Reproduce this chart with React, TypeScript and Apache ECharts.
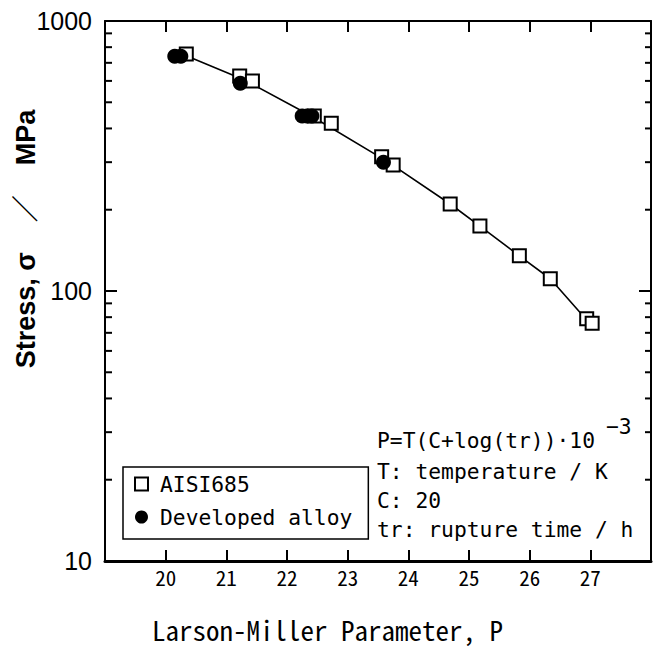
import React, { useEffect, useRef } from "react";
import * as echarts from "echarts";

// ---- data ----
const aisiP = [20.34, 21.22, 21.43, 22.45, 22.73, 23.56, 23.75, 24.69, 25.18, 25.83, 26.34, 26.94, 27.03];
const aisiS = [755, 626, 600, 445, 418, 314, 293, 210, 174, 135, 111, 79, 76];
const devP = [20.15, 20.25, 21.23, 22.25, 22.33, 22.41, 23.59];
const devS = [741, 741, 588, 445, 445, 445, 300];
const fitP = [20.3, 21.3, 22.4, 23.65, 24.69, 25.18, 25.83, 26.34, 26.9];
const fitS = [750, 605, 445, 302, 210, 174, 135, 111, 80];
const xTickLabels = ["20", "21", "22", "23", "24", "25", "26", "27"];
const yTickLabels = ["10", "100", "1000"];
const yMinorTicks = [20, 30, 40, 50, 60, 70, 80, 90, 200, 300, 400, 500, 600, 700, 800, 900];
const xMin = 19;
const xMax = 28;
const yMin = 10;
const yMax = 1000;
const annotationLines = ["P=T(C+log(tr))\u00b710", "T: temperature / K", "C: 20", "tr: rupture time / h"];

const MONO_CJK = "'Noto Sans Mono CJK JP', 'DejaVu Sans Mono', monospace";
const MONO = "'DejaVu Sans Mono', monospace";
const SANS = "'Liberation Sans', 'Noto Sans CJK JP', Arial, sans-serif";

export default function App() {
  const ref = useRef<HTMLDivElement>(null);
  useEffect(() => {
    if (!ref.current) return;
    const chart = echarts.init(ref.current, undefined, { renderer: "svg" });
    const axisLine = { show: true, onZero: false, lineStyle: { color: "#000", width: 2 } };
    const option: any = {
      animation: false,
      backgroundColor: "#fff",
      grid: { left: 105, right: 4, top: 21, bottom: 86 },
      xAxis: [
        {
          type: "value", min: xMin, max: xMax, interval: 1, position: "bottom",
          axisLine: { ...axisLine, lineStyle: { color: "#000", width: 3 } },
          axisTick: { inside: true, length: 11, lineStyle: { color: "#000", width: 2 } },
          axisLabel: {
            color: "#000", fontFamily: MONO_CJK, fontSize: 21, margin: 5,
            formatter: (v: number) => (xTickLabels.includes(String(v)) ? String(v) : ""),
          },
          splitLine: { show: false },
        },
        {
          type: "value", min: xMin, max: xMax, interval: 1, position: "top",
          axisLine, axisTick: { inside: true, length: 11, lineStyle: { color: "#000", width: 2 } },
          axisLabel: { show: false }, splitLine: { show: false },
        },
      ],
      yAxis: [
        {
          type: "log", logBase: 10, min: yMin, max: yMax, position: "left",
          axisLine, axisTick: { inside: true, length: 12, lineStyle: { color: "#000", width: 2 } },
          axisLabel: {
            color: "#000", fontFamily: SANS, fontSize: 25, margin: 13,
            formatter: (v: number) => (yTickLabels.includes(String(Math.round(v))) ? String(Math.round(v)) : ""),
          },
          splitLine: { show: false },
        },
        {
          type: "log", logBase: 10, min: yMin, max: yMax, position: "right",
          axisLine, axisTick: { inside: true, length: 12, lineStyle: { color: "#000", width: 2 } },
          axisLabel: { show: false }, splitLine: { show: false },
        },
      ],
      legend: {
        orient: "vertical", left: 123, top: 467,
        padding: [5, 16, 10, 11], itemGap: 9, itemWidth: 13, itemHeight: 13,
        borderColor: "#000", borderWidth: 1.5, backgroundColor: "#fff",
        textStyle: { fontFamily: MONO, fontSize: 21.3, color: "#000", lineHeight: 24, padding: [0, 0, 0, 7] },
        data: [{ name: "AISI685", icon: "rect" }, { name: "Developed alloy", icon: "circle" }],
      },
      series: [
        {
          name: "fit", type: "line", silent: true, symbol: "none", z: 2,
          lineStyle: { color: "#000", width: 1.6 },
          data: fitP.map((p, i) => [p, fitS[i]]),
        },
        {
          name: "AISI685", type: "scatter", symbol: "rect", symbolSize: 13, z: 3,
          itemStyle: { color: "#fff", borderColor: "#000", borderWidth: 2, opacity: 1 },
          data: aisiP.map((p, i) => [p, aisiS[i]]),
        },
        {
          name: "Developed alloy", type: "scatter", symbol: "circle", symbolSize: 15, z: 4,
          itemStyle: { color: "#000", opacity: 1 },
          data: devP.map((p, i) => [p, devS[i]]),
        },
        {
          name: "minorTicks", type: "custom", silent: true, z: 5,
          data: yMinorTicks.map((v) => [xMin, v]),
          renderItem: (_params: any, api: any) => {
            const v = api.value(1);
            const l = api.coord([xMin, v]);
            const r = api.coord([xMax, v]);
            return {
              type: "group",
              children: [
                { type: "line", shape: { x1: l[0], y1: l[1], x2: l[0] + 7, y2: l[1] }, style: { stroke: "#000", lineWidth: 2 } },
                { type: "line", shape: { x1: r[0] - 6, y1: r[1], x2: r[0], y2: r[1] }, style: { stroke: "#000", lineWidth: 2 } },
              ],
            };
          },
        },
      ],
      graphic: [
        {
          type: "text", x: 152, y: 629,
          style: { text: "Larson-Miller Parameter, P", font: `27px ${MONO_CJK}`, fill: "#000", align: "left", verticalAlign: "middle" },
        },
        {
          type: "text", x: 26, y: 239, rotation: Math.PI / 2,
          style: { text: "Stress, \u03c3    \uff0f    MPa", font: `bold 27px ${SANS}`, fill: "#000", align: "center", verticalAlign: "middle" },
        },
        ...annotationLines.map((t, i) => ({
          type: "text", x: 377, y: [440, 471, 500, 529][i],
          style: { text: t, font: `21.3px ${MONO}`, fill: "#000", align: "left", verticalAlign: "middle" },
        })),
        {
          type: "text", x: 606, y: 426,
          style: { text: "\u22123", font: `21.3px ${MONO}`, fill: "#000", align: "left", verticalAlign: "middle" },
        },
      ],
    };
    chart.setOption(option);
    return () => chart.dispose();
  }, []);
  return <div ref={ref} style={{ position: "fixed", left: 0, top: 0, width: 655, height: 647 }} />;
}
